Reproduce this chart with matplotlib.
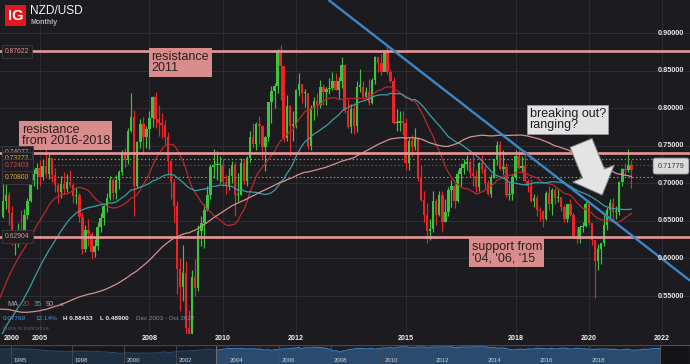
import numpy as np
import pandas as pd
import matplotlib
matplotlib.use("Agg")
import matplotlib.pyplot as plt
from matplotlib.patches import Rectangle
from matplotlib.transforms import blended_transform_factory, ScaledTranslation

plt.rcParams['font.family'] = ['Liberation Sans', 'DejaVu Sans']

# ---------------- data ----------------
# month index m: 0 = Dec 2003, 1 = Jan 2004 ... 207 = Mar 2021
# monthly closes before the visible window (Jan 1996 .. Dec 2003), used for the MAs and navigator
pre_close = [
    0.667, 0.676, 0.684, 0.688, 0.682, 0.688, 0.689, 0.697, 0.700, 0.706, 0.712, 0.709,
    0.695, 0.676, 0.668, 0.667, 0.676, 0.667, 0.650, 0.639, 0.643, 0.612, 0.594, 0.580,
    0.585, 0.568, 0.555, 0.547, 0.541, 0.526, 0.522, 0.507, 0.507, 0.535, 0.531, 0.525,
    0.541, 0.528, 0.535, 0.552, 0.535, 0.533, 0.524, 0.516, 0.511, 0.510, 0.505, 0.521,
    0.497, 0.486, 0.496, 0.476, 0.461, 0.467, 0.454, 0.435, 0.401, 0.395, 0.413, 0.444,
    0.438, 0.437, 0.406, 0.424, 0.422, 0.413, 0.404, 0.439, 0.403, 0.414, 0.425, 0.415,
    0.430, 0.429, 0.440, 0.458, 0.485, 0.489, 0.469, 0.460, 0.470, 0.489, 0.502, 0.524,
    0.546, 0.560, 0.558, 0.556, 0.586, 0.584, 0.587, 0.577, 0.604, 0.617, 0.646, 0.655,
]

close = [
    0.6760, 0.6850, 0.6610, 0.6240, 0.6260, 0.6370, 0.6340, 0.6580, 0.6770, 0.7040, 0.7130, 0.7200,
    0.7080, 0.7230, 0.7130, 0.7340, 0.7110, 0.6980, 0.6890, 0.6990, 0.6920, 0.7020, 0.6980, 0.6830,
    0.6840, 0.6550, 0.6120, 0.6380, 0.6330, 0.6080, 0.6160, 0.6420, 0.6540, 0.6700, 0.6810, 0.7040,
    0.6870, 0.7050, 0.7150, 0.7400, 0.7310, 0.7700, 0.7880, 0.6970, 0.7550, 0.7790, 0.7620, 0.7720,
    0.7870, 0.8150, 0.7860, 0.7810, 0.7780, 0.7620, 0.7300, 0.7020, 0.6700, 0.5860, 0.5620, 0.5810,
    0.5070, 0.4970, 0.5750, 0.5610, 0.6360, 0.6470, 0.6640, 0.6840, 0.7220, 0.7240, 0.7240, 0.7250,
    0.7020, 0.6980, 0.7100, 0.7240, 0.6850, 0.6850, 0.7270, 0.7030, 0.7340, 0.7620, 0.7520, 0.7790,
    0.7760, 0.7480, 0.7620, 0.8080, 0.8230, 0.8300, 0.8760, 0.8560, 0.7600, 0.8030, 0.7770, 0.7780,
    0.8250, 0.8330, 0.8200, 0.8200, 0.7500, 0.8000, 0.8100, 0.8040, 0.8290, 0.8220, 0.8260, 0.8270,
    0.8360, 0.8250, 0.8360, 0.8580, 0.7970, 0.7750, 0.7990, 0.7760, 0.8290, 0.8290, 0.8150, 0.8220,
    0.8070, 0.8380, 0.8680, 0.8600, 0.8480, 0.8760, 0.8480, 0.8370, 0.7800, 0.7810, 0.7830, 0.7800,
    0.7270, 0.7560, 0.7480, 0.7610, 0.7090, 0.6780, 0.6580, 0.6370, 0.6390, 0.6760, 0.6580, 0.6840,
    0.6480, 0.6620, 0.6910, 0.6970, 0.6760, 0.7130, 0.7200, 0.7260, 0.7280, 0.7140, 0.7100, 0.6950,
    0.7270, 0.7190, 0.7000, 0.6860, 0.7080, 0.7330, 0.7510, 0.7190, 0.7220, 0.6850, 0.6860, 0.7090,
    0.7370, 0.7210, 0.7230, 0.7030, 0.6960, 0.6770, 0.6810, 0.6640, 0.6630, 0.6520, 0.6870, 0.6720,
    0.6910, 0.6810, 0.6820, 0.6680, 0.6520, 0.6720, 0.6580, 0.6300, 0.6260, 0.6420, 0.6430, 0.6730,
    0.6470, 0.6240, 0.5970, 0.6130, 0.6200, 0.6450, 0.6640, 0.6740, 0.6620, 0.6620, 0.7020, 0.7190,
    0.7180, 0.7240, 0.7178,
]

high = [
    0.7040, 0.7160, 0.6880, 0.6700, 0.6310, 0.6470, 0.6640, 0.6660, 0.6810, 0.7130, 0.7190, 0.7270,
    0.7310, 0.7330, 0.7460, 0.7420, 0.7340, 0.7200, 0.7000, 0.7100, 0.7150, 0.7130, 0.7180, 0.7000,
    0.6950, 0.6870, 0.6620, 0.6440, 0.6530, 0.6350, 0.6260, 0.6480, 0.6610, 0.6730, 0.6870, 0.7100,
    0.7070, 0.7110, 0.7180, 0.7440, 0.7470, 0.7740, 0.8210, 0.7980, 0.7570, 0.7860, 0.7890, 0.7770,
    0.7970, 0.8170, 0.8215, 0.8040, 0.7940, 0.7850, 0.7690, 0.7310, 0.7060, 0.6760, 0.6000, 0.6180,
    0.5970, 0.5320, 0.5840, 0.5990, 0.6440, 0.6570, 0.6720, 0.6970, 0.7260, 0.7460, 0.7430, 0.7370,
    0.7330, 0.7110, 0.7200, 0.7300, 0.7280, 0.7140, 0.7340, 0.7330, 0.7370, 0.7700, 0.7800, 0.7820,
    0.7900, 0.7730, 0.7630, 0.8080, 0.8300, 0.8340, 0.8790, 0.8843, 0.8570, 0.8180, 0.8050, 0.7960,
    0.8260, 0.8470, 0.8320, 0.8260, 0.8200, 0.8040, 0.8150, 0.8200, 0.8380, 0.8330, 0.8290, 0.8400,
    0.8490, 0.8470, 0.8420, 0.8680, 0.8590, 0.8130, 0.8060, 0.8070, 0.8370, 0.8530, 0.8360, 0.8290,
    0.8390, 0.8410, 0.8700, 0.8650, 0.8720, 0.8770, 0.8835, 0.8520, 0.8420, 0.7990, 0.7970, 0.7960,
    0.7870, 0.7600, 0.7640, 0.7740, 0.7620, 0.7250, 0.6900, 0.6740, 0.6520, 0.6900, 0.6790, 0.6900,
    0.6900, 0.6790, 0.6950, 0.7050, 0.7000, 0.7180, 0.7270, 0.7320, 0.7380, 0.7310, 0.7400, 0.7180,
    0.7290, 0.7380, 0.7230, 0.7050, 0.7120, 0.7330, 0.7560, 0.7560, 0.7440, 0.7270, 0.7010, 0.7120,
    0.7440, 0.7440, 0.7360, 0.7440, 0.7060, 0.7060, 0.6860, 0.6850, 0.6690, 0.6640, 0.6900, 0.6970,
    0.6940, 0.6940, 0.6940, 0.6810, 0.6710, 0.6730, 0.6790, 0.6610, 0.6400, 0.6440, 0.6480, 0.6760,
    0.6760, 0.6470, 0.6240, 0.6190, 0.6210, 0.6580, 0.6690, 0.6790, 0.6800, 0.6700, 0.7030, 0.7200,
    0.7270, 0.7465, 0.7310,
]

low = [
    0.6540, 0.6660, 0.6450, 0.6180, 0.6040, 0.6150, 0.6280, 0.6300, 0.6530, 0.6750, 0.6960, 0.6930,
    0.6970, 0.7040, 0.7070, 0.7060, 0.7020, 0.6890, 0.6740, 0.6800, 0.6860, 0.6890, 0.6950, 0.6740,
    0.6720, 0.6480, 0.6060, 0.6080, 0.6170, 0.5990, 0.6020, 0.6110, 0.6350, 0.6450, 0.6620, 0.6780,
    0.6780, 0.6790, 0.6930, 0.7110, 0.7220, 0.7260, 0.7690, 0.6560, 0.6940, 0.7470, 0.7380, 0.7470,
    0.7460, 0.7750, 0.7740, 0.7630, 0.7600, 0.7520, 0.7110, 0.6790, 0.6480, 0.5530, 0.5300, 0.5440,
    0.4990, 0.4910, 0.4890, 0.5500, 0.5570, 0.6170, 0.6140, 0.6630, 0.6790, 0.7070, 0.7050, 0.7000,
    0.6970, 0.6860, 0.6910, 0.7000, 0.6560, 0.6770, 0.6840, 0.6990, 0.6960, 0.7280, 0.7480, 0.7450,
    0.7520, 0.7340, 0.7160, 0.7560, 0.7810, 0.8010, 0.8210, 0.8110, 0.7550, 0.7570, 0.7370, 0.7570,
    0.7740, 0.8170, 0.8070, 0.8020, 0.7460, 0.7450, 0.7840, 0.7900, 0.8000, 0.8050, 0.8050, 0.8190,
    0.8240, 0.8240, 0.8120, 0.8270, 0.7940, 0.7740, 0.7670, 0.7660, 0.7690, 0.8220, 0.8120, 0.8120,
    0.8050, 0.8060, 0.8330, 0.8490, 0.8450, 0.8510, 0.8460, 0.8350, 0.7790, 0.7700, 0.7700, 0.7640,
    0.7180, 0.7180, 0.7370, 0.7440, 0.7030, 0.6760, 0.6490, 0.6200, 0.6240, 0.6350, 0.6450, 0.6560,
    0.6350, 0.6490, 0.6570, 0.6680, 0.6670, 0.6750, 0.6950, 0.7130, 0.7180, 0.7080, 0.6960, 0.6880,
    0.6900, 0.7140, 0.6930, 0.6840, 0.6820, 0.7070, 0.7250, 0.7180, 0.7130, 0.6820, 0.6780, 0.6780,
    0.7050, 0.7190, 0.7150, 0.7030, 0.6880, 0.6750, 0.6690, 0.6560, 0.6500, 0.6420, 0.6510, 0.6650,
    0.6580, 0.6720, 0.6750, 0.6630, 0.6480, 0.6480, 0.6570, 0.6270, 0.6200, 0.6200, 0.6350, 0.6420,
    0.6450, 0.6180, 0.5470, 0.5840, 0.5920, 0.6160, 0.6380, 0.6510, 0.6510, 0.6520, 0.6580, 0.6960,
    0.7110, 0.7150, 0.6940,
]

ma_periods = [20, 35, 90]
ma_colors = ['#b8282c', '#3a9ca8', '#d4908f']

resistance_levels = [0.87622, 0.74077, 0.62904]
dotted_levels = [0.73272, 0.72403, 0.70800]
dotted_colors = ['#c9982c', '#a83838', '#c9982c']
label_levels = [0.87622, 0.74077, 0.73272, 0.72403, 0.70800, 0.62904]
label_colors = ['#e08f8f', '#e08f8f', '#d8aa3c', '#d04848', '#d8aa3c', '#e08f8f']
current_price = 0.71779

trend_x = [107.7, 226.2]
trend_y = [0.9444, 0.5705]

y_ticks = [0.90, 0.85, 0.80, 0.75, 0.70, 0.65, 0.60, 0.55]
x_tick_pos = [4, 13, 49, 73, 97, 133, 169, 193, 217]
x_tick_labels = ['2000', '2005', '2008', '2010', '2012', '2015', '2018', '2020', '2022']
x_grid_pos = [13, 49, 73, 97, 133, 169, 193, 217]

nav_tick_pos = [-88, -60.3, -36.6, -13, 10.2, 33.8, 57.5, 80.6, 103.8, 127.5, 151, 174.7]
nav_tick_labels = ['1995', '1998', '2000', '2002', '2004', '2006', '2008', '2010',
                   '2012', '2014', '2016', '2018']
nav_sel_start = 5

# ---------------- style ----------------
BG = '#1c1c20'
GRID = '#2c2c31'
GREEN = '#3cc43c'
RED = '#ea2428'
W, H = 690, 364

def fx(px):
    return px / W

def fy(py):
    return 1 - py / H

fig = plt.figure(figsize=(W / 100, H / 100), dpi=100, facecolor=BG)
ax = fig.add_axes([0, fy(334), 1, 334 / H])
ax.set_facecolor(BG)
for s in ax.spines.values():
    s.set_visible(False)
ax.set_xticks([])
ax.set_yticks([])
ax.set_xlim(0, 226.2)
ax.set_ylim(0.49938, 0.94436)

# grid
for v in y_ticks:
    ax.axhline(v, color=GRID, lw=0.8, zorder=1)
for p in x_grid_pos:
    ax.axvline(p, color=GRID, lw=0.8, zorder=1)

# dotted levels
for lv, c in zip(dotted_levels, dotted_colors):
    ax.axhline(lv, xmin=50 / W, xmax=652 / W, color=c, lw=0.8, ls=(0, (1.2, 2.2)), zorder=2)

# candles
close_a = np.array(close)
high_a = np.array(high)
low_a = np.array(low)
opens = np.r_[pre_close[-1], close_a[:-1]]
m = np.arange(1, len(close_a) + 1)
up = close_a >= opens
cols = np.where(up, GREEN, RED)
ax.vlines(m, low_a, high_a, colors=cols, lw=0.85, zorder=3)
body = np.maximum(np.abs(close_a - opens), 0.0015)
ax.bar(m, body, bottom=np.minimum(opens, close_a), width=0.8, color=cols, lw=0, zorder=4)

# moving averages
all_close = pd.Series(np.r_[pre_close, close_a])
all_m = np.arange(-len(pre_close) + 1, len(close_a) + 1)
for p, c in zip(ma_periods, ma_colors):
    ax.plot(all_m, all_close.rolling(p).mean(), color=c, lw=0.9, zorder=5)

# horizontal resistance / support lines
for lv in resistance_levels:
    ax.axhline(lv, color='#e69797', lw=1.9, zorder=6)

# trend line
ax.plot(trend_x, trend_y, color='#3d86c8', lw=1.7, zorder=6, solid_capstyle='butt')

# left price labels
tl = blended_transform_factory(ax.transAxes, ax.transData)
for lv, c in zip(label_levels, label_colors):
    ax.text(5 / W, lv, f"{lv:.5f}", transform=tl, ha='left', va='center', fontsize=4.9,
            color=c, zorder=9,
            bbox=dict(boxstyle='square,pad=0.45', fc='#1f1f23', ec='#3c3c41', lw=0.6))

# right axis labels
for v in y_ticks:
    ax.text(684 / W, v, f"{v:.5f}", transform=tl, ha='right', va='center', fontsize=5.3,
            color='#e4e4e4', fontweight='bold', zorder=9)

# current price box
off = ScaledTranslation(0, 4 / 100, fig.dpi_scale_trans)
ax.text(671 / W, current_price, f"{current_price:.5f}", transform=tl + off, ha='center',
        va='center', fontsize=5.3, color='#3a3a3a', zorder=10,
        bbox=dict(boxstyle='round,pad=0.6,rounding_size=0.3', fc='#dadada', ec='#a8a8a8', lw=0.6))

# x tick labels
tx = blended_transform_factory(ax.transData, ax.transAxes)
for p, lab in zip(x_tick_pos, x_tick_labels):
    ax.text(p, -5 / 334, lab, transform=tx, ha='center', va='center', fontsize=5.1,
            color='#efefef', fontweight='bold', clip_on=False)

# annotation boxes
salmon = '#d98c8c'
ax.text(49.7, 0.8770, 'resistance\n2011', fontsize=9, color='#2b1e1e', ha='left', va='top',
        linespacing=0.95, zorder=8,
        bbox=dict(boxstyle='square,pad=0.2', fc=salmon, ec='none'))
ax.text(7.1, 0.7795, 'resistance\nfrom 2016-2018', fontsize=9, color='#2b1e1e', ha='left',
        va='top', linespacing=0.95, zorder=8,
        bbox=dict(boxstyle='square,pad=0.2', fc=salmon, ec='none'))
ax.text(154.6, 0.6235, "support from\n'04, '06, '15", fontsize=9, color='#2b1e1e', ha='left',
        va='top', linespacing=0.95, zorder=8,
        bbox=dict(boxstyle='square,pad=0.2', fc=salmon, ec='none'))
ax.text(173.6, 0.8008, 'breaking out?\nranging?', fontsize=9, color='#1e1e1e', ha='left',
        va='top', linespacing=0.95, zorder=8,
        bbox=dict(boxstyle='square,pad=0.2', fc='#e2e2e2', ec='#9a9a9a', lw=0.6))

# arrow
ax.annotate('', xy=(197.4, 0.6846), xytext=(190.5, 0.7539), zorder=8,
            arrowprops=dict(arrowstyle='simple,head_length=1.66,head_width=3.2,tail_width=1.7',
                            mutation_scale=10, fc='#e4e4e4', ec='#8c8c8c', lw=0.7,
                            shrinkA=0, shrinkB=0))

# ---------------- navigator ----------------
nav = fig.add_axes([0, 0, 660 / W, 19 / H])
nav.set_facecolor(BG)
for s in nav.spines.values():
    s.set_visible(False)
nav.set_xticks([])
nav.set_yticks([])
nav.set_xlim(-93, 207)
nav.set_ylim(-0.3, 0.95)
nav.fill_between(all_m, all_close, -0.3, color='#2a4b6e', lw=0, zorder=1)
nav.plot(all_m, all_close, color='#3b7bba', lw=0.8, zorder=2)
nav.axvspan(-93, nav_sel_start, color='#141418', alpha=0.5, lw=0, zorder=3)
nav.axvline(nav_sel_start, color='#6a6a70', lw=0.8, zorder=4)
nav.axhline(0.95, xmin=0, xmax=1, color='#46464c', lw=1.0, zorder=4)
for p, lab in zip(nav_tick_pos, nav_tick_labels):
    nav.axvline(p, color='#4a4a50', lw=0.6, zorder=3)
    nav.text(p + 1.3, -0.04, lab, fontsize=4.3, color='#d2d2d2', ha='left', va='center', zorder=5)

fig.add_artist(Rectangle((fx(660), 0), 30 / W, 19 / H, transform=fig.transFigure,
                         fc='#141417', ec='#505056', lw=0.8))

# ---------------- header ----------------
fig.add_artist(Rectangle((fx(5), fy(26)), 21 / W, 21 / H, transform=fig.transFigure,
                         fc='#e3161d', ec='none'))
fig.text(fx(15.5), fy(16), 'IG', color='white', fontsize=10.5, fontweight='bold',
         ha='center', va='center')
fig.text(fx(30), fy(11.5), 'NZD/USD', color='#f2f2f2', fontsize=8.6, ha='left', va='center')
fig.text(fx(30.5), fy(22), 'Monthly', color='#b4b4b4', fontsize=5, fontweight='bold',
         ha='left', va='center')

# ---------------- bottom-left legend ----------------
leg_y = 305
for txt, x0, c in [('MA', 7, '#a8a8a8'), ('20', 22, '#d03434'), ('35', 34, '#3aa8b4'),
                   ('90', 46, '#dc9a9a'), ('\u00d7', 60, '#a8a8a8')]:
    fig.text(fx(x0), fy(leg_y), txt, color=c, fontsize=5.2, ha='left', va='center')
for txt, x0, c, w in [('0.07769', 3, '#4a94e0', 'normal'), ('12.14%', 35, '#4a94e0', 'normal'),
                      ('H 0.88433', 63, '#e8e8e8', 'bold'), ('L 0.48900', 100, '#e8e8e8', 'bold'),
                      ('Dec 2003 - Oct 2022', 136, '#8a8a8a', 'normal')]:
    fig.text(fx(x0), fy(318), txt, color=c, fontsize=4.6, ha='left', va='center', fontweight=w)
fig.text(fx(3), fy(329), 'Data is indicative', color='#56565c', fontsize=4.3, ha='left',
         va='center')

fig.savefig('out.png', dpi=100, facecolor=BG)
